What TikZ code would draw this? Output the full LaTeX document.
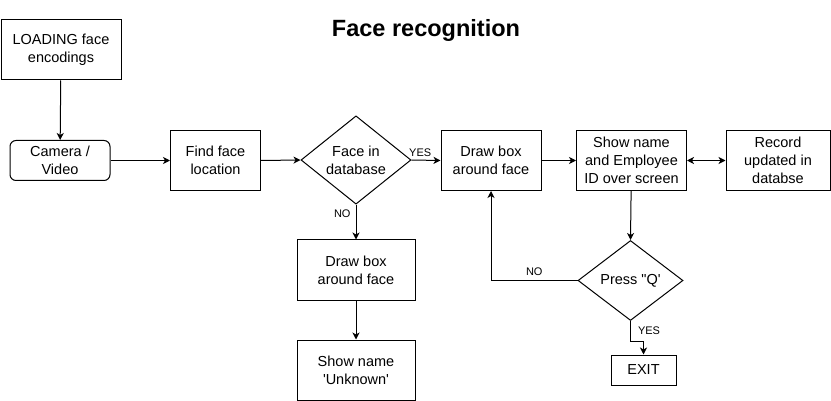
\documentclass[tikz,border=0pt]{standalone}
\usepackage{fontspec}
\setmainfont{Liberation Sans}
\usetikzlibrary{arrows.meta}
\usetikzlibrary{shapes.geometric}
\begin{document}
\begin{tikzpicture}[x=1pt,y=-1pt,line width=1pt,>={Stealth[length=7pt,width=7pt,inset=2pt]}]
\tikzstyle{proc}=[draw, shape=rectangle, align=center, minimum height=60pt, inner sep=0pt, font=\fontsize{14.5}{18}\selectfont]
\tikzstyle{decis}=[draw, shape=diamond, align=center, inner sep=0pt, font=\fontsize{14.5}{18}\selectfont]
\tikzstyle{lbl}=[inner sep=0pt, font=\fontsize{11}{13}\selectfont]
\useasboundingbox (0,0) rectangle (831,401);
%
\node[font=\bfseries\fontsize{23.5}{28}\selectfont](title) at (426,30){Face recognition};
%
\node[proc, minimum width=120pt](load) at (61,50){LOADING face\\encodings};
\node[proc, minimum width=100pt, minimum height=40pt, rounded corners=6pt](cam) at (60,160.5){Camera /\\Video};
\node[proc, minimum width=90pt](find) at (215.5,160.5){Find face\\location};
\node[decis, minimum width=110pt, minimum height=80pt](dbq) at (356,160){Face in\\database};
\node[proc, minimum width=100pt](boxk) at (491,160.5){Draw box\\around face};
\node[proc, minimum width=110pt](show) at (631.5,160.5){Show name\\and Employee\\ID over screen};
\node[proc, minimum width=104pt](rec) at (778,160.5){Record\\updated in\\databse};
%
\node[proc, minimum width=118pt](boxu) at (356,270){Draw box\\around face};
\node[proc, minimum width=118pt](unk) at (356,370){Show name\\\textquotesingle Unknown\textquotesingle};
%
\node[decis, minimum width=105pt, minimum height=80pt](pressq) at (630.5,280.5){Press \textquotedbl Q\textquotesingle};
\node[proc, minimum width=65pt, minimum height=30pt](exit) at (643.5,370){EXIT};
%
\draw[->] (load) -- (cam);
\draw[->] (cam) -- (find);
\draw[->] (find.east) -- (dbq.west);
\draw[->] (dbq.east) -- node[lbl, pos=0.3, above=3pt]{YES} (boxk.west);
\draw[->] (dbq.south) -- node[lbl, pos=0.27, left=5pt]{NO} (boxu.north);
\draw[->] (boxu) -- (unk);
\draw[->] (boxk) -- (show);
\draw[<->] (show) -- (rec);
\draw[->] (show) -- (pressq.north);
\draw[->] (pressq.west) -| node[lbl, pos=0.25, above=4pt]{NO} (boxk.south);
\draw[->] (pressq.south) -- node[lbl, pos=0.5, right=7pt]{YES} ++(0,20) -| (exit.north);
%
\end{tikzpicture}
\end{document}
